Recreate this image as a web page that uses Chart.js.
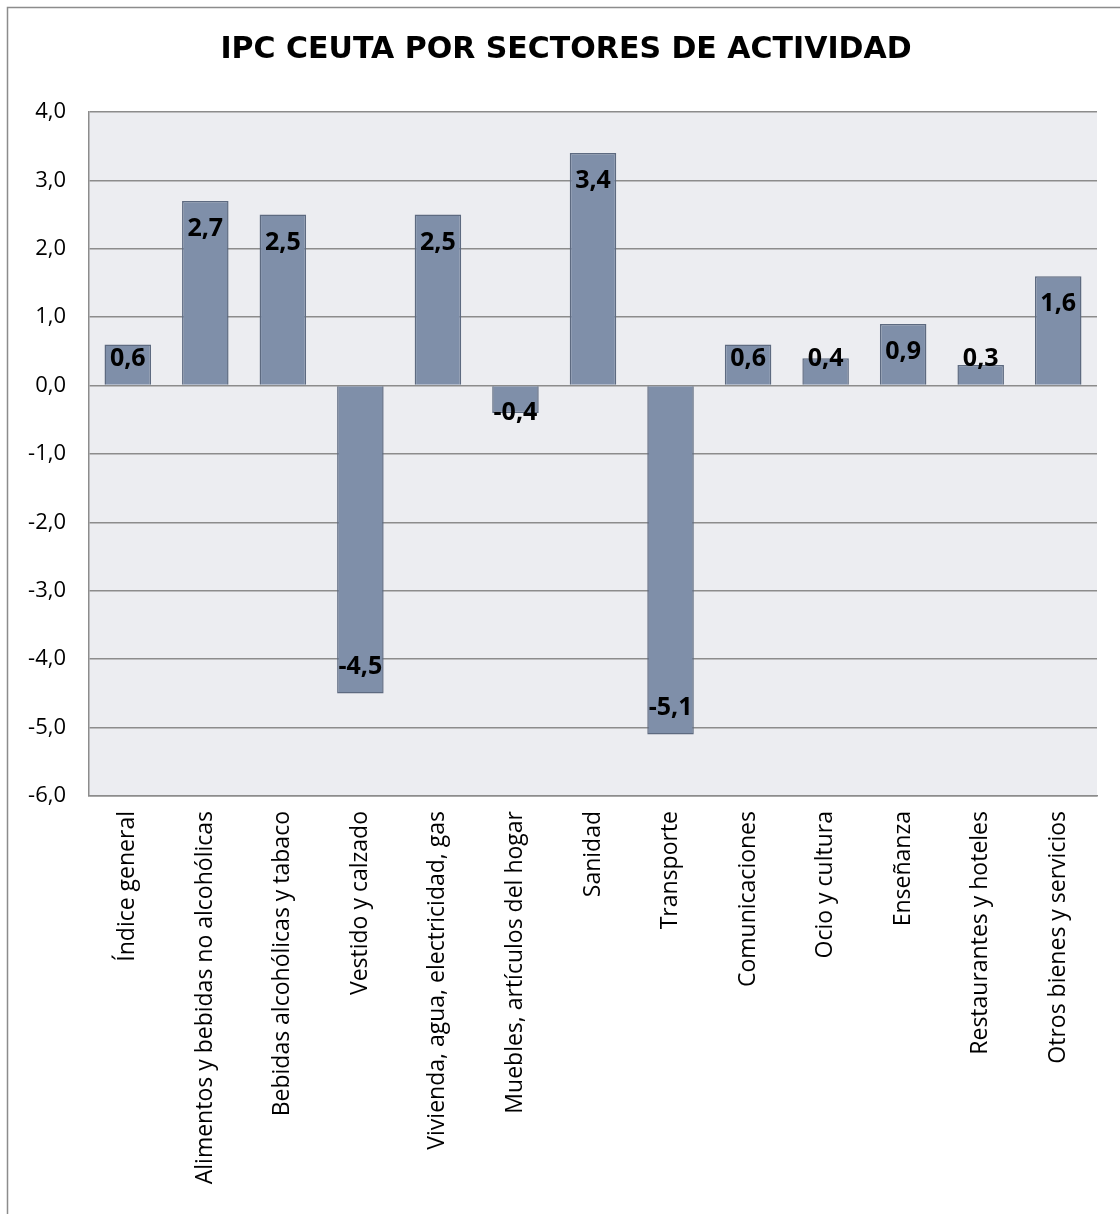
<!DOCTYPE html>
<html>
<head>
<meta charset="utf-8">
<script src="https://cdn.jsdelivr.net/npm/chart.js@4/dist/chart.umd.min.js"></script>
<style>
  body { margin: 0; background: #fff; }
  canvas { display: block; }
</style>
</head>
<body>
<canvas id="chart" width="1120" height="1214"></canvas>
<script>
const categories = [
  'Índice general',
  'Alimentos y bebidas no alcohólicas',
  'Bebidas alcohólicas y tabaco',
  'Vestido y calzado',
  'Vivienda, agua, electricidad, gas',
  'Muebles, artículos del hogar',
  'Sanidad',
  'Transporte',
  'Comunicaciones',
  'Ocio y cultura',
  'Enseñanza',
  'Restaurantes y hoteles',
  'Otros bienes y servicios'
];
const values = [0.6, 2.7, 2.5, -4.5, 2.5, -0.4, 3.4, -5.1, 0.6, 0.4, 0.9, 0.3, 1.6];
const titleText = 'IPC CEUTA POR SECTORES DE ACTIVIDAD';
const yMin = -6;
const yMax = 4;

const fmt = v => v.toFixed(1).replace('.', ',');

// frame, title, plot background and value labels
const decor = {
  id: 'decor',
  beforeDraw(chart) {
    const ctx = chart.ctx;
    const a = chart.chartArea;
    ctx.save();
    ctx.fillStyle = '#fff';
    ctx.fillRect(0, 0, chart.width, chart.height);
    ctx.strokeStyle = '#8c8c8c';
    ctx.lineWidth = 1.5;
    ctx.beginPath();
    ctx.moveTo(7.5, chart.height + 5);
    ctx.lineTo(7.5, 7.5);
    ctx.lineTo(chart.width + 5, 7.5);
    ctx.stroke();
    ctx.fillStyle = '#ecedf1';
    ctx.fillRect(a.left, a.top, a.right - a.left, a.bottom - a.top);

    ctx.fillStyle = '#000';
    ctx.font = 'bold 30px "DejaVu Sans"';
    ctx.textAlign = 'center';
    ctx.textBaseline = 'alphabetic';
    ctx.fillText(titleText, 566, 58);
    ctx.restore();
  },
  afterDatasetsDraw(chart) {
    const ctx = chart.ctx;
    const y0 = chart.scales.y.getPixelForValue(0);
    ctx.save();
    ctx.font = 'bold 25px "Open Sans"';
    ctx.fillStyle = '#000';
    ctx.textAlign = 'center';
    ctx.textBaseline = 'middle';
    chart.getDatasetMeta(0).data.forEach((bar, i) => {
      const v = values[i];
      let cy;
      if (v >= 0) cy = Math.min(bar.y + 28, y0 - 27);
      else cy = Math.max(bar.y - 27, y0 + 27);
      ctx.fillText(fmt(v), bar.x, cy);
    });
    ctx.restore();
  }
};

new Chart(document.getElementById('chart'), {
  type: 'bar',
  data: {
    labels: categories,
    datasets: [{
      data: values,
      backgroundColor: '#7f8fa9',
      borderColor: '#5d6a80',
      borderWidth: 1.5,
      categoryPercentage: 1,
      barPercentage: 0.6
    }]
  },
  options: {
    responsive: false,
    devicePixelRatio: 1,
    animation: false,
    layout: { padding: { left: 10, right: 23, top: 112, bottom: 0 } },
    plugins: {
      legend: { display: false },
      tooltip: { enabled: false },
      title: { display: false }
    },
    scales: {
      y: {
        min: yMin,
        max: yMax,
        ticks: {
          stepSize: 1,
          color: '#000',
          font: { family: 'Open Sans', size: 22 },
          padding: 23,
          callback: v => fmt(v)
        },
        grid: { color: '#8c8c8c', lineWidth: 1.5, drawTicks: false },
        border: { color: '#8c8c8c', width: 1.5 },
        afterFit(scale) { scale.width = 79; }
      },
      x: {
        ticks: {
          color: '#000',
          font: { family: 'Open Sans', size: 23 },
          minRotation: 90,
          maxRotation: 90,
          autoSkip: false,
          padding: 15
        },
        grid: { display: false, drawTicks: false },
        border: { color: '#8c8c8c', width: 1.5 },
        afterFit(scale) { scale.height = 418; }
      }
    }
  },
  plugins: [decor]
});
</script>
</body>
</html>
